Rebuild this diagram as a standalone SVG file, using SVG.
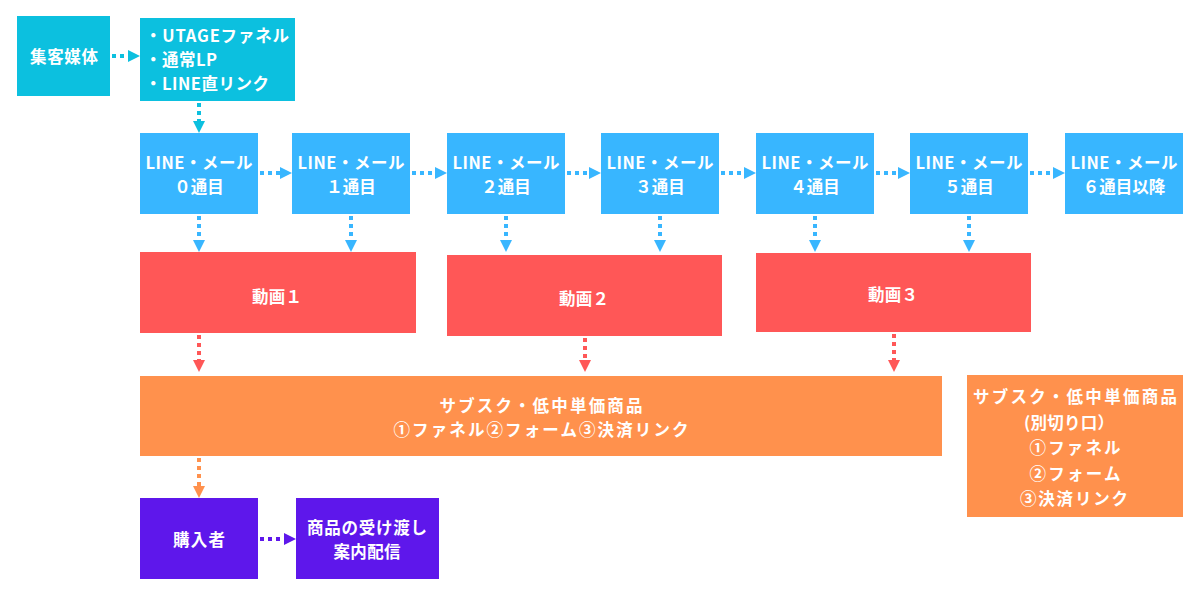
<svg xmlns="http://www.w3.org/2000/svg" width="1200" height="600" viewBox="0 0 1200 600">
<style>
text{font-family:"Noto Sans CJK JP","Noto Sans",sans-serif;font-weight:700;font-size:16.5px;fill:#fff;text-anchor:middle;dominant-baseline:central}
.l{text-anchor:start}
.c{stroke-width:4;stroke-dasharray:4 4;fill:none}
</style>
<defs>
<marker id="aC" markerWidth="12" markerHeight="12" refX="0" refY="6" orient="auto" markerUnits="userSpaceOnUse"><path d="M0,0 L12,6 L0,12 Z" fill="#0cc0df"/></marker>
<marker id="aB" markerWidth="12" markerHeight="12" refX="0" refY="6" orient="auto" markerUnits="userSpaceOnUse"><path d="M0,0 L12,6 L0,12 Z" fill="#38b6ff"/></marker>
<marker id="aR" markerWidth="12" markerHeight="12" refX="0" refY="6" orient="auto" markerUnits="userSpaceOnUse"><path d="M0,0 L12,6 L0,12 Z" fill="#ff5757"/></marker>
<marker id="aO" markerWidth="12" markerHeight="12" refX="0" refY="6" orient="auto" markerUnits="userSpaceOnUse"><path d="M0,0 L12,6 L0,12 Z" fill="#ff914d"/></marker>
<marker id="aP" markerWidth="12" markerHeight="12" refX="0" refY="6" orient="auto" markerUnits="userSpaceOnUse"><path d="M0,0 L12,6 L0,12 Z" fill="#5e17eb"/></marker>
</defs>
<rect width="1200" height="600" fill="#fff"/>
<g id="connectors">
<path class="c" stroke="#0cc0df" marker-end="url(#aC)" d="M112,56 H128"/>
<path class="c" stroke="#0cc0df" marker-end="url(#aC)" d="M199,103 V121"/>
<path class="c" stroke="#38b6ff" marker-end="url(#aB)" d="M260,173 H280"/>
<path class="c" stroke="#38b6ff" marker-end="url(#aB)" d="M412,173 H435"/>
<path class="c" stroke="#38b6ff" marker-end="url(#aB)" d="M567,173 H589"/>
<path class="c" stroke="#38b6ff" marker-end="url(#aB)" d="M721,173 H744"/>
<path class="c" stroke="#38b6ff" marker-end="url(#aB)" d="M876,173 H898"/>
<path class="c" stroke="#38b6ff" marker-end="url(#aB)" d="M1030,173 H1053"/>
<path class="c" stroke="#38b6ff" marker-end="url(#aB)" d="M199,216 V240"/>
<path class="c" stroke="#38b6ff" marker-end="url(#aB)" d="M351,216 V240"/>
<path class="c" stroke="#38b6ff" marker-end="url(#aB)" d="M506,216 V240"/>
<path class="c" stroke="#38b6ff" marker-end="url(#aB)" d="M660,216 V240"/>
<path class="c" stroke="#38b6ff" marker-end="url(#aB)" d="M815,216 V240"/>
<path class="c" stroke="#38b6ff" marker-end="url(#aB)" d="M969,216 V240"/>
<path class="c" stroke="#ff5757" marker-end="url(#aR)" d="M199,335 V360"/>
<path class="c" stroke="#ff5757" marker-end="url(#aR)" d="M585,338 V360"/>
<path class="c" stroke="#ff5757" marker-end="url(#aR)" d="M894,334 V360"/>
<path class="c" stroke="#ff914d" marker-end="url(#aO)" d="M199,458 V486"/>
<path class="c" stroke="#5e17eb" marker-end="url(#aP)" d="M260,539 H284"/>
</g>
<g id="media"><rect x="17" y="16" width="93" height="80" fill="#0cc0df"/><text x="64" y="56" textLength="68">集客媒体</text></g>
<g id="entry"><rect x="140" y="18" width="155" height="83" fill="#0cc0df"/>
<text class="l" x="145" y="35" textLength="144">・UTAGEファネル</text><text class="l" x="145" y="59" textLength="72">・通常LP</text><text class="l" x="145" y="83" textLength="124">・LINE直リンク</text></g>
<g id="m0"><rect x="140" y="133" width="118" height="81" fill="#38b6ff"/><text x="199" y="162" textLength="107">LINE・メール</text><text x="199" y="186">０通目</text></g>
<g id="m1"><rect x="292" y="133" width="118" height="81" fill="#38b6ff"/><text x="351" y="162" textLength="107">LINE・メール</text><text x="351" y="186">１通目</text></g>
<g id="m2"><rect x="447" y="133" width="118" height="81" fill="#38b6ff"/><text x="506" y="162" textLength="107">LINE・メール</text><text x="506" y="186">２通目</text></g>
<g id="m3"><rect x="601" y="133" width="118" height="81" fill="#38b6ff"/><text x="660" y="162" textLength="107">LINE・メール</text><text x="660" y="186">３通目</text></g>
<g id="m4"><rect x="756" y="133" width="118" height="81" fill="#38b6ff"/><text x="815" y="162" textLength="107">LINE・メール</text><text x="815" y="186">４通目</text></g>
<g id="m5"><rect x="910" y="133" width="118" height="81" fill="#38b6ff"/><text x="969" y="162" textLength="107">LINE・メール</text><text x="969" y="186">５通目</text></g>
<g id="m6"><rect x="1065" y="133" width="118" height="81" fill="#38b6ff"/><text x="1124" y="162" textLength="107">LINE・メール</text><text x="1124" y="186">６通目以降</text></g>
<g id="v1"><rect x="140" y="252" width="276" height="81" fill="#ff5757"/><text x="277" y="296" textLength="50">動画１</text></g>
<g id="v2"><rect x="447" y="255" width="275" height="81" fill="#ff5757"/><text x="584" y="298" textLength="50">動画２</text></g>
<g id="v3"><rect x="756" y="253" width="275" height="79" fill="#ff5757"/><text x="893" y="294" textLength="50">動画３</text></g>
<g id="offer"><rect x="140" y="376" width="802" height="80" fill="#ff914d"/><text x="541" y="405" textLength="203">サブスク・低中単価商品</text><text x="541" y="429" textLength="295">①ファネル②フォーム③決済リンク</text></g>
<g id="offer2"><rect x="967" y="375" width="216" height="142" fill="#ff914d"/>
<text x="1075" y="396" textLength="204">サブスク・低中単価商品</text><text x="1069" y="422" textLength="90">(別切り口）</text><text x="1075" y="447" textLength="91">①ファネル</text><text x="1075" y="473" textLength="91">②フォーム</text><text x="1074" y="498" textLength="108">③決済リンク</text></g>
<g id="buyer"><rect x="140" y="498" width="118" height="81" fill="#5e17eb"/><text x="199" y="539" textLength="52">購入者</text></g>
<g id="deliver"><rect x="296" y="498" width="143" height="81" fill="#5e17eb"/><text x="367" y="527" textLength="120">商品の受け渡し</text><text x="367" y="551" textLength="67">案内配信</text></g>
</svg>
